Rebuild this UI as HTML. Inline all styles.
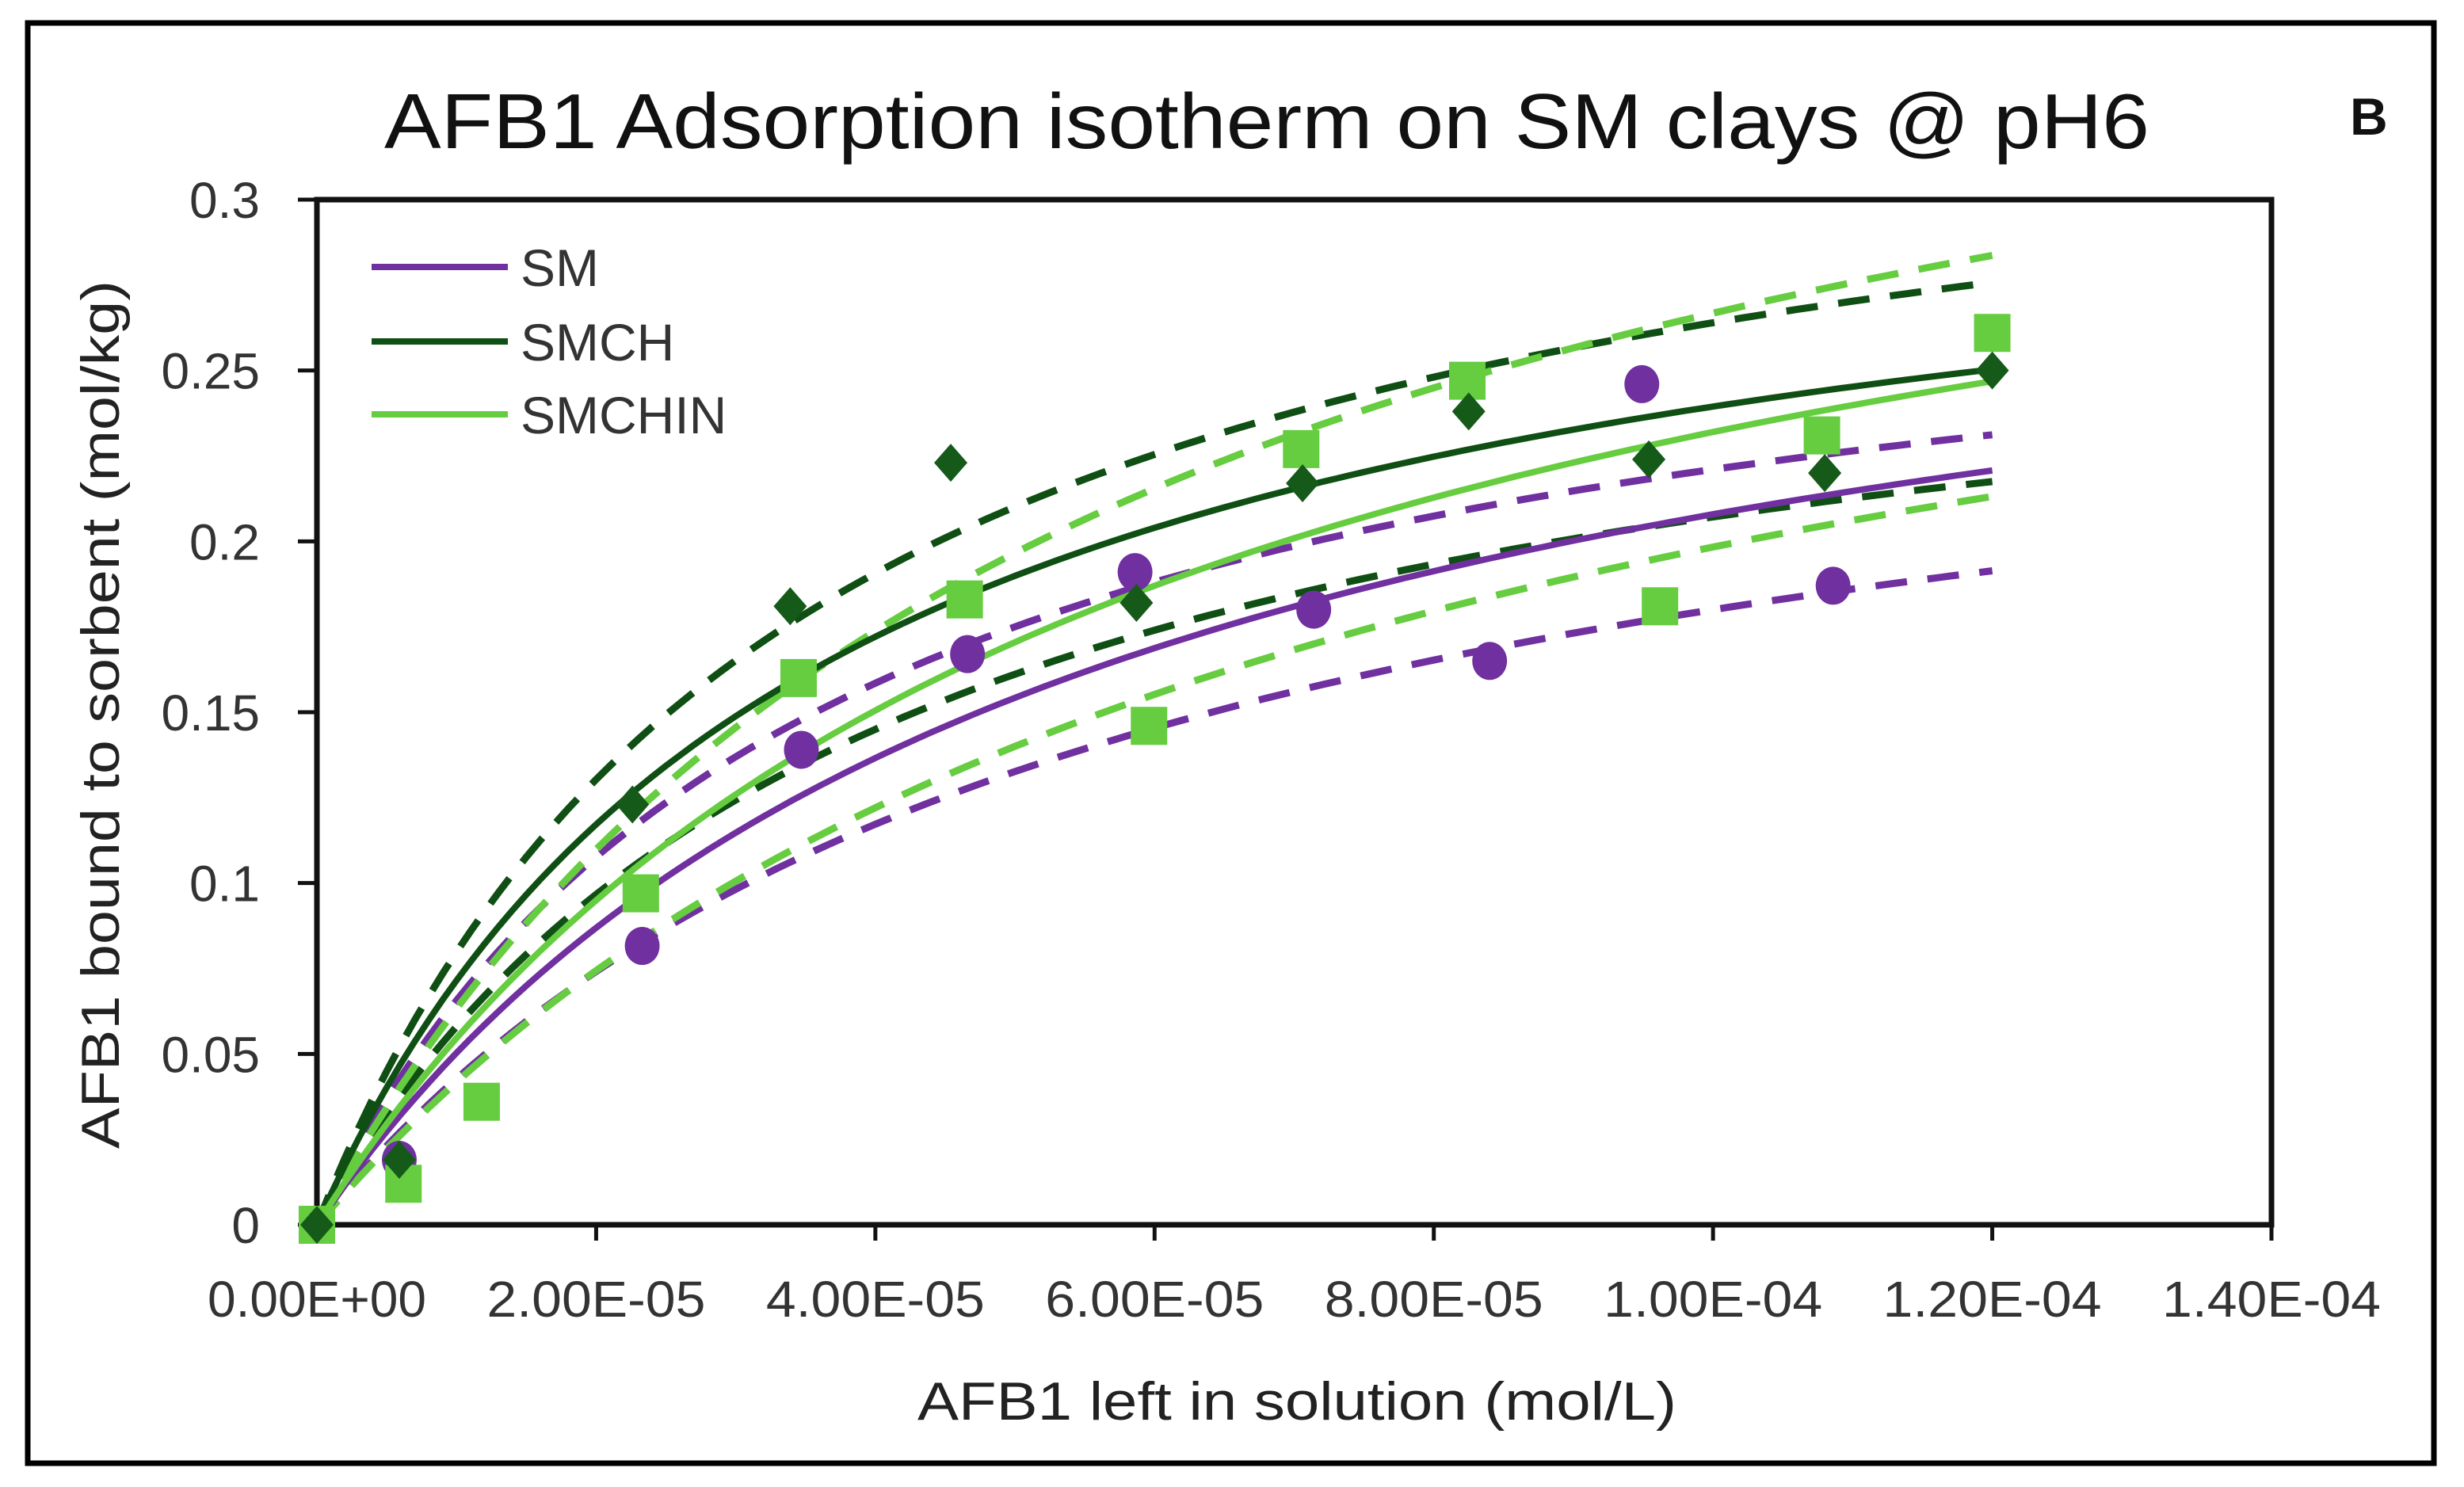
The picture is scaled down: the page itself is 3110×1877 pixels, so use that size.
<!DOCTYPE html>
<html><head><meta charset="utf-8"><style>
html,body{margin:0;padding:0;background:#fff;}
svg{display:block;font-family:"Liberation Sans",sans-serif;}
</style></head><body>
<svg id="chart" width="3110" height="1877" viewBox="0 0 3110 1877" xmlns="http://www.w3.org/2000/svg">
<rect x="0" y="0" width="3110" height="1877" fill="#fff"/>
<rect x="35" y="29" width="3037" height="1818" fill="none" stroke="#000" stroke-width="7"/>
<text x="485" y="187" font-size="98" textLength="2228" lengthAdjust="spacingAndGlyphs" fill="#111">AFB1 Adsorption isotherm on  SM clays @ pH6</text>
<text x="2966" y="170" font-size="66" font-weight="bold" fill="#111">B</text>
<g id="plot"></g>
<text x="1637" y="1792" font-size="68" text-anchor="middle" textLength="958" lengthAdjust="spacingAndGlyphs" fill="#222">AFB1 left in solution (mol/L)</text>
<text transform="translate(150,902) rotate(-90)" font-size="68" text-anchor="middle" textLength="1096" lengthAdjust="spacingAndGlyphs" fill="#222">AFB1 bound to sorbent (mol/kg)</text>
<g>
<line x1="469" y1="337" x2="641" y2="337" stroke="#7030A0" stroke-width="8"/>
<text x="657" y="361" font-size="66" fill="#333">SM</text>
<line x1="469" y1="431" x2="641" y2="431" stroke="#0F4F14" stroke-width="8"/>
<text x="657" y="455" font-size="66" fill="#333">SMCH</text>
<line x1="469" y1="523" x2="641" y2="523" stroke="#66CC40" stroke-width="8"/>
<text x="657" y="547" font-size="66" fill="#333">SMCHIN</text>
</g>
</svg>
<script>
const xTicks = [0, 2e-5, 4e-5, 6e-5, 8e-5, 1e-4, 1.2e-4, 1.4e-4];
const xTickLabels = ["0.00E+00","2.00E-05","4.00E-05","6.00E-05","8.00E-05","1.00E-04","1.20E-04","1.40E-04"];
const yTicks = [0, 0.05, 0.1, 0.15, 0.2, 0.25, 0.3];
const yTickLabels = ["0","0.05","0.1","0.15","0.2","0.25","0.3"];
const smX = [0, 5.9e-6, 2.33e-5, 3.47e-5, 4.66e-5, 5.86e-5, 7.14e-5, 8.40e-5, 9.49e-5, 1.086e-4];
const smY = [0, 0.019, 0.0816, 0.139, 0.167, 0.191, 0.180, 0.165, 0.246, 0.187];
const smchX = [0, 5.9e-6, 2.26e-5, 3.39e-5, 4.54e-5, 5.87e-5, 7.06e-5, 8.25e-5, 9.54e-5, 1.08e-4, 1.2e-4];
const smchY = [0, 0.019, 0.123, 0.181, 0.223, 0.182, 0.217, 0.238, 0.224, 0.220, 0.250];
const smchinX = [0, 6.2e-6, 1.18e-5, 2.32e-5, 3.45e-5, 4.64e-5, 5.96e-5, 7.05e-5, 8.24e-5, 9.62e-5, 1.078e-4, 1.2e-4];
const smchinY = [0, 0.012, 0.036, 0.097, 0.160, 0.183, 0.146, 0.227, 0.247, 0.181, 0.231, 0.261];
// Langmuir fits [fit, upper, lower]: Qmax and K
const smQmax = [0.319, 0.300, 0.280];
const smK = [18720, 28000, 18000];
const smchQmax = [0.324, 0.355, 0.290];
const smchK = [28320, 29000, 25000];
const smchinQmax = [0.363, 0.415, 0.340];
const smchinK = [17710, 18000, 14000];
const fitXmax = 1.2e-4;

const NS = "http://www.w3.org/2000/svg";
const X0 = 400, X1 = 2867, Y0 = 1546, Y1 = 252;
const xMax = 1.4e-4, yMax = 0.3;
function sx(v){ return X0 + v / xMax * (X1 - X0); }
function sy(v){ return Y0 - v / yMax * (Y0 - Y1); }
const plot = document.getElementById('plot');
function mk(tag, attrs, parent){
  const e = document.createElementNS(NS, tag);
  for (const k in attrs) e.setAttribute(k, attrs[k]);
  (parent || plot).appendChild(e);
  return e;
}
const frame = mk('rect', {x:X0, y:Y1, width:X1-X0, height:Y0-Y1, fill:'none', stroke:'#111', 'stroke-width':7});


xTicks.forEach((t,i)=>{
  const tk = mk('line', {x1:sx(t), y1:Y0, x2:sx(t), y2:Y0+20, stroke:'#111', 'stroke-width':5});
  
  
  const lb = mk('text', {x:sx(t), y:1662, 'font-size':64, 'text-anchor':'middle', textLength:276, lengthAdjust:'spacingAndGlyphs', fill:'#333'});
  lb.textContent = xTickLabels[i];
  
  
});
yTicks.forEach((t,i)=>{
  const tk = mk('line', {x1:X0-24, y1:sy(t), x2:X0, y2:sy(t), stroke:'#111', 'stroke-width':5});
  
  
  const lb = mk('text', {x:328, y:sy(t)+23, 'font-size':64, 'text-anchor':'end', fill:'#333'});
  lb.textContent = yTickLabels[i];
  
  
});
function curve(Q, K, color, dashed, name){
  let d = '';
  for (let i = 0; i <= 120; i++){
    const c = fitXmax * i / 120;
    const q = Q * K * c / (1 + K * c);
    d += (i ? 'L' : 'M') + sx(c).toFixed(1) + ',' + sy(q).toFixed(1);
  }
  const p = mk('path', {d:d, fill:'none', stroke:color, 'stroke-width':dashed?9:8});
  if (dashed) p.setAttribute('stroke-dasharray', '40 26');
  
  
}
const series = [
  {n:'sm', Q:smQmax, K:smK, c:'#7030A0'},
  {n:'smch', Q:smchQmax, K:smchK, c:'#0F4F14'},
  {n:'smchin', Q:smchinQmax, K:smchinK, c:'#66CC40'}
];
series.forEach(s=>{
  curve(s.Q[1], s.K[1], s.c, true, s.n + '-upper-bound');
  curve(s.Q[2], s.K[2], s.c, true, s.n + '-lower-bound');
});
series.forEach(s=>{ curve(s.Q[0], s.K[0], s.c, false, s.n + '-fit-line'); });
smX.forEach((x,i)=>{
  const m = mk('ellipse', {cx:sx(x), cy:sy(smY[i]), rx:22, ry:24, fill:'#7030A0'});
  
  
});
smchinX.forEach((x,i)=>{
  const cx = sx(x), cy = sy(smchinY[i]);
  const m = mk('rect', {x:cx-23, y:cy-24, width:46, height:48, fill:'#66CC40'});
  
  
});
smchX.forEach((x,i)=>{
  const cx = sx(x), cy = sy(smchY[i]);
  const m = mk('polygon', {points:`${cx},${cy-24} ${cx+21},${cy} ${cx},${cy+24} ${cx-21},${cy}`, fill:'#165A1A'});
  
  
});
</script>
</body></html>
